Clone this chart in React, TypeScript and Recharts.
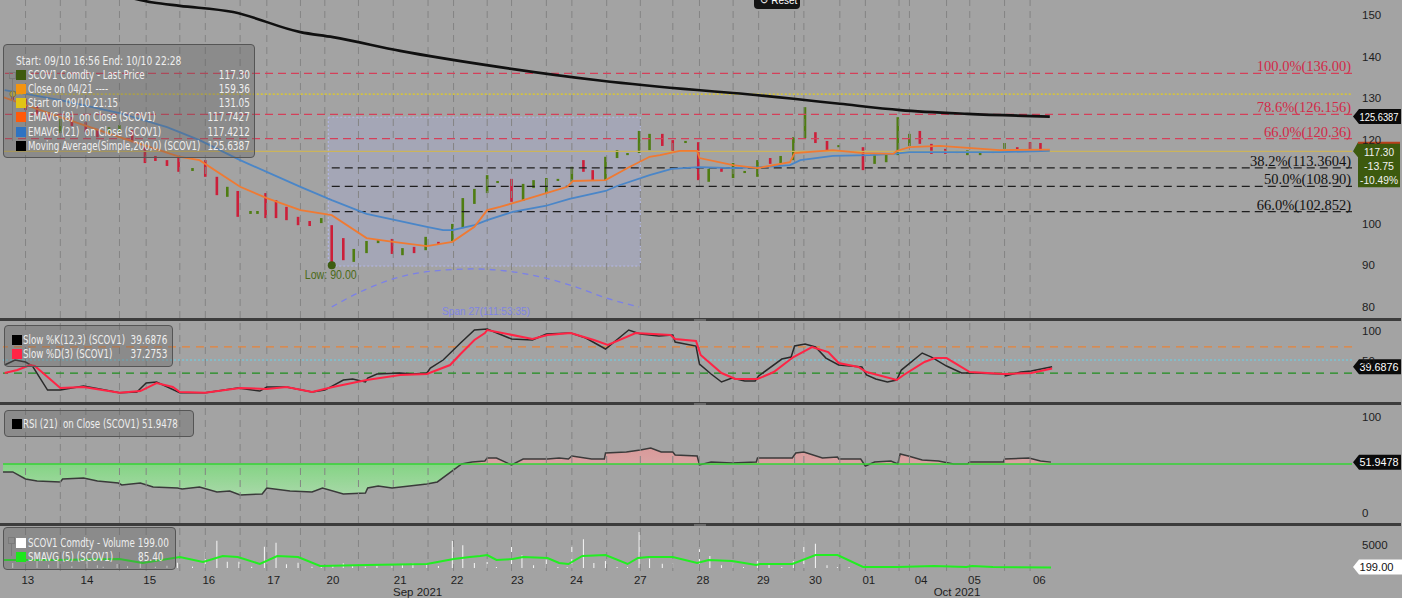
import React from 'react';
import { ComposedChart, Line, Bar, Area, XAxis, YAxis, ReferenceLine, ReferenceArea, ReferenceDot } from 'recharts';

// ---- time axis (1 unit ~ one intraday bar slot) ----
const dayTicks = [2.4, 7.5, 12.9, 18.0, 23.6, 28.7, 34.5, 39.4, 44.6, 49.7, 55.2, 60.6, 65.8, 70.3, 74.9, 79.4, 84.0, 89.6];
const dayLabels = ['13', '14', '15', '16', '17', '20', '21', '22', '23', '24', '27', '28', '29', '30', '01', '04', '05', '06'];
const monthTimes = [36.0, 82.5];
const monthLabels = ['Sep 2021', 'Oct 2021'];
const gridTimes = [2.2, 5.2, 7.4, 10.3, 12.6, 15.5, 17.7, 20.7, 23.0, 25.9, 28.0, 30.9, 33.9, 36.9, 39.1, 42.0, 44.1, 47.1, 49.3, 52.3, 55.2, 58.0, 60.3, 63.2, 65.4, 68.5, 69.3, 72.4, 74.6, 77.5, 78.4, 81.6, 83.6, 86.6, 88.8];

// ---- price candles ----
const candleTimes = [
  1.1, 2.2, 3.2, 4.2, 5.2, 6.2, 7.4, 8.4, 9.4, 10.3,
  11.4, 12.5, 13.4, 14.4, 15.4, 16.6, 17.7, 18.7, 19.6, 20.5,
  21.6, 22.2, 22.9, 23.8, 24.7, 25.7, 26.7, 27.7, 28.6, 29.6,
  30.5, 31.6, 32.6, 33.8, 34.7, 35.7, 36.7, 37.8, 39.0, 39.9,
  40.9, 42.0, 42.9, 44.1, 45.1, 46.0, 47.1, 48.1, 49.3, 50.3,
  51.1, 52.2, 53.2, 54.1, 55.1, 56.0, 57.1, 58.0, 59.1, 60.2,
  61.1, 62.2, 63.2, 64.2, 65.3, 66.4, 67.3, 68.4, 69.4, 70.3,
  71.3, 72.3, 74.4, 75.4, 76.4, 77.4, 78.4, 79.3, 80.3, 81.5,
  82.5, 83.4, 84.5, 85.6, 86.6, 87.7, 88.8, 89.7,
];
const candleHigh = [
  131.3, 129.9, 128.2, 126.7, 125.1, 125.5, 124.3, 122.7, 123.1, 123.6,
  122.4, 118.3, 116.2, 115.2, 116.2, 113.3, 115.2, 111.2, 108.8, 107.8,
  103.0, 103.0, 107.3, 105.6, 104.0, 101.6, 100.6, 101.3, 99.6, 96.5,
  93.9, 95.8, 96.0, 96.3, 94.1, 94.4, 96.8, 95.6, 99.9, 106.1,
  108.3, 111.6, 110.2, 110.7, 109.5, 110.4, 110.9, 110.7, 113.6, 115.2,
  112.8, 116.0, 117.6, 116.9, 122.2, 121.5, 121.5, 120.0, 119.8, 119.5,
  113.1, 113.3, 114.5, 112.6, 115.2, 115.7, 116.2, 120.7, 127.9, 121.9,
  119.8, 118.8, 118.3, 116.4, 116.9, 125.5, 121.5, 122.2, 119.1, 117.9,
  117.4, 117.6, 117.1, 117.4, 119.3, 118.3, 119.5, 119.3,
];
const candleLow = [
  129.6, 127.2, 125.8, 124.6, 121.7, 123.4, 121.9, 120.7, 121.5, 121.9,
  119.5, 114.5, 115.0, 113.8, 112.4, 112.6, 111.2, 106.8, 106.4, 101.6,
  102.3, 102.3, 101.3, 101.3, 100.8, 99.6, 99.4, 100.1, 90.0, 91.2,
  90.8, 92.9, 95.3, 92.7, 92.4, 92.9, 93.6, 95.1, 95.8, 98.9,
  104.7, 107.3, 109.7, 105.2, 105.4, 108.5, 107.3, 110.2, 110.0, 112.4,
  110.4, 110.4, 115.7, 116.4, 116.9, 117.6, 118.6, 116.9, 119.3, 110.4,
  110.0, 112.4, 110.9, 112.1, 111.2, 114.3, 114.5, 115.2, 120.5, 119.3,
  117.4, 118.3, 112.8, 114.3, 114.7, 116.4, 118.6, 119.1, 116.7, 116.7,
  116.9, 116.4, 116.4, 116.9, 117.9, 117.6, 117.6, 117.3,
];
// u = up bar (close above open), d = down bar
const candleDir = 'dddduddduu' + 'ddddduddud' + 'uudddddudd' + 'uuudududuu' + 'uuuduuuuud' + 'duuuuuddud' + 'uduuuduuud' + 'duduuuuddd' + 'uuuuuddd';

// ---- overlays on price ----
const ema8Times = [0.26, 5.2, 10.3, 15.5, 17.2, 20.7, 23.0, 25.9, 28.6, 31.6, 33.9, 36.8, 39.0, 40.9, 42.0, 43.1, 45.1, 47.1, 48.9, 49.4, 52.2, 54.1, 56.0, 56.9, 58.6, 60.1, 60.3, 63.2, 65.3, 68.1, 68.5, 71.8, 74.4, 77.0, 77.3, 78.4, 81.0, 86.2, 90.5];
const ema8Values = [130.3, 125.5, 120.7, 116.0, 115.2, 108.8, 106.1, 103.2, 102.0, 96.5, 95.6, 94.6, 95.6, 99.2, 103.2, 104.0, 105.6, 107.3, 108.8, 110.2, 110.4, 113.3, 116.0, 116.4, 117.4, 117.4, 115.7, 114.0, 113.3, 114.7, 116.9, 117.6, 116.9, 116.7, 117.4, 118.3, 118.6, 117.6, 117.74];
const ema21Times = [0.4, 5.2, 10.3, 14.4, 17.2, 20.7, 25.9, 28.6, 31.6, 36.8, 38.2, 39.0, 40.9, 42.0, 44.2, 47.0, 49.1, 52.2, 53.2, 56.0, 57.9, 60.3, 63.2, 65.5, 68.1, 69.0, 71.8, 75.0, 77.0, 78.4, 86.2, 90.5];
const ema21Values = [132.0, 129.6, 126.5, 123.1, 120.0, 115.2, 108.8, 105.6, 102.3, 99.2, 98.4, 98.4, 99.6, 100.8, 102.8, 104.2, 105.9, 107.8, 109.0, 111.6, 113.1, 113.5, 113.3, 113.5, 114.0, 115.2, 116.2, 116.4, 116.7, 117.1, 117.1, 117.42];
const ma200Times = [0.26, 6.9, 13.2, 15.5, 20.1, 25.9, 28.7, 34.5, 43.1, 51.7, 60.1, 63.2, 68.4, 72.4, 77.6, 83.4, 90.5];
const ma200Values = [158.5, 157.0, 153.0, 152.2, 150.7, 145.9, 144.7, 141.4, 137.5, 134.3, 132.0, 131.3, 129.9, 128.7, 127.2, 126.3, 125.64];
const arcTimes = [28.6, 31.6, 34.5, 37.3, 40.8, 43.7, 46.6, 49.4, 52.3, 55.1];
const arcValues = [80.0, 84.3, 87.2, 88.6, 89.1, 88.6, 87.2, 85.0, 82.1, 80.0];

const fibRed = [
  { v: 136.0, label: '100.0%(136.00)' },
  { v: 126.156, label: '78.6%(126.156)' },
  { v: 120.36, label: '66.0%(120.36)' },
];
const fibBlack = [
  { v: 113.3604, label: '38.2%(113.3604)' },
  { v: 108.9, label: '50.0%(108.90)' },
  { v: 102.852, label: '66.0%(102.852)' },
];
const lastPrice = 117.3;
const startPrice = 131.05;
const ma200Last = 125.6387;
const lowPoint = { t: 28.6, v: 90.0 };

// ---- stochastic ----
const kTimes = [0.4, 1.3, 2.2, 2.8, 4.1, 5.2, 7.2, 8.6, 10.3, 11.8, 12.6, 13.5, 15.5, 17.7, 20.5, 22.4, 23.0, 24.7, 26.9, 28.0, 29.6, 30.4, 31.5, 31.7, 32.5, 34.5, 35.6, 36.8, 37.1, 38.2, 39.7, 40.9, 42.0, 44.1, 45.9, 47.1, 49.2, 50.5, 52.2, 54.2, 55.2, 56.8, 58.0, 58.2, 60.0, 60.3, 61.3, 62.2, 63.1, 64.2, 65.1, 65.4, 67.4, 68.2, 68.5, 69.4, 70.3, 71.2, 72.3, 74.3, 74.7, 75.5, 76.5, 77.3, 77.7, 79.5, 80.3, 81.6, 82.9, 83.9, 86.6, 86.7, 88.0, 88.9, 90.7];
const kValues = [42.4, 50.0, 47.0, 40.9, 4.5, 4.5, 10.6, 6.1, 0.5, 1.5, 15.2, 16.7, 0.5, 0.5, 7.6, 3.0, 9.1, 9.1, 1.5, 4.5, 19.7, 21.2, 16.7, 22.7, 28.8, 30.3, 28.8, 30.3, 37.9, 50.0, 75.8, 95.5, 97.0, 81.8, 80.3, 89.4, 90.9, 83.3, 66.7, 95.5, 89.4, 86.4, 87.9, 77.3, 71.2, 43.9, 28.8, 16.7, 22.7, 18.2, 18.2, 25.8, 51.5, 54.5, 71.2, 74.2, 69.7, 53.0, 42.4, 39.4, 27.3, 21.2, 16.7, 19.7, 34.8, 60.6, 54.5, 40.9, 30.3, 30.3, 28.8, 25.8, 31.8, 33.3, 39.69];
const dTimes = [0.4, 1.5, 2.6, 3.0, 4.6, 5.2, 7.2, 10.3, 12.1, 13.5, 14.9, 15.5, 17.7, 20.7, 23.0, 24.7, 26.9, 28.7, 31.6, 34.5, 36.8, 38.8, 39.7, 40.9, 41.8, 42.0, 45.9, 47.2, 49.2, 51.2, 52.4, 54.8, 57.8, 58.2, 60.0, 60.4, 62.2, 63.4, 65.3, 66.7, 68.4, 70.0, 71.4, 72.3, 74.0, 74.7, 77.3, 77.9, 79.7, 80.6, 81.6, 83.6, 86.6, 88.9, 90.7];
const dValues = [30.3, 34.8, 42.4, 40.9, 16.7, 7.6, 9.1, 0.5, 3.0, 15.2, 9.1, 1.5, 0.5, 7.6, 6.1, 9.1, 1.5, 9.1, 19.7, 27.3, 28.8, 42.4, 59.1, 80.3, 90.9, 95.5, 81.8, 87.9, 90.9, 80.3, 72.7, 90.9, 87.9, 81.8, 78.8, 57.6, 30.3, 21.2, 21.2, 31.8, 54.5, 69.7, 62.1, 45.5, 39.4, 31.8, 19.7, 27.3, 47.0, 53.0, 53.0, 31.8, 28.8, 30.3, 37.28];
const kLast = 39.6876;

// ---- RSI ----
const rsiTimes = [0.26, 1.1, 2.2, 3.2, 5.2, 5.4, 7.2, 8.4, 10.2, 10.5, 12.1, 13.2, 15.3, 15.7, 17.2, 18.7, 19.8, 20.7, 22.6, 23.0, 25.0, 26.9, 27.8, 29.6, 31.5, 31.7, 32.6, 33.8, 35.3, 36.8, 37.7, 39.8, 40.7, 41.8, 42.0, 42.8, 44.1, 45.1, 47.2, 48.2, 49.0, 49.3, 51.0, 52.1, 52.2, 54.0, 55.2, 56.1, 57.0, 58.0, 58.2, 60.1, 60.3, 61.3, 63.1, 65.2, 65.3, 67.2, 68.3, 68.6, 69.3, 70.9, 72.2, 72.3, 74.2, 74.6, 75.4, 76.8, 77.4, 77.6, 78.3, 79.5, 80.9, 82.2, 83.4, 83.6, 86.5, 86.6, 88.7, 89.7, 90.6];
const rsiValues = [41.7, 41.7, 34.4, 32.3, 31.3, 34.4, 35.4, 32.3, 30.2, 28.1, 30.2, 26.0, 25.0, 24.0, 26.0, 20.8, 21.9, 17.7, 18.8, 25.0, 21.9, 20.8, 25.0, 18.8, 19.8, 25.0, 27.1, 25.0, 27.1, 29.2, 31.3, 50.0, 52.1, 53.1, 56.3, 56.3, 49.0, 55.2, 55.2, 56.3, 55.2, 58.3, 55.2, 55.2, 61.5, 62.5, 64.6, 66.7, 62.5, 62.5, 59.4, 58.3, 49.0, 52.1, 51.0, 52.1, 56.3, 56.3, 56.3, 61.5, 62.5, 56.3, 57.3, 55.2, 55.2, 47.9, 52.1, 53.1, 50.0, 60.4, 58.3, 54.2, 53.1, 50.0, 50.0, 52.1, 52.1, 55.2, 56.3, 53.1, 51.95];
const rsiLast = 51.9478;

// ---- volume ----
const volTimes = [1.1, 2.2, 3.2, 4.2, 5.0, 6.2, 7.5, 8.4, 8.9, 10.1, 11.0, 12.1, 13.4, 14.4, 15.3, 16.6, 17.7, 18.7, 19.6, 20.6, 21.7, 22.8, 23.8, 24.7, 25.7, 26.9, 27.7, 28.7, 29.6, 30.4, 31.5, 32.5, 33.8, 34.7, 35.6, 36.8, 37.8, 39.0, 39.9, 40.9, 42.0, 42.8, 44.1, 45.0, 46.0, 47.1, 48.1, 48.9, 49.3, 50.3, 51.2, 52.2, 53.2, 54.1, 55.1, 56.0, 57.1, 58.0, 60.3, 61.2, 62.2, 63.2, 64.1, 65.3, 66.3, 67.4, 68.4, 69.3, 70.3, 71.3, 72.2, 73.2, 74.4, 77.5, 81.6, 89.7];
const volValues = [1100, 500, 3200, 700, 2200, 400, 1500, 600, 300, 900, 400, 1800, 300, 500, 1180, 300, 3630, 6070, 1400, 1400, 300, 4740, 5620, 810, 1180, 300, 200, 670, 1040, 440, 300, 440, 440, 810, 1040, 670, 440, 5990, 5030, 1110, 1330, 220, 5990, 2810, 590, 1850, 220, 220, 5030, 6360, 1110, 1550, 220, 220, 7990, 2070, 960, 960, 4140, 2660, 590, 960, 220, 1550, 960, 220, 1550, 6140, 5400, 590, 220, 220, 150, 370, 150, 199];
const smaTimes = [0.26, 4.9, 10.3, 12.3, 15.5, 17.5, 19.2, 20.5, 22.4, 23.9, 25.7, 27.6, 31.6, 36.8, 39.1, 40.5, 41.4, 42.0, 42.8, 44.2, 45.1, 47.2, 48.2, 49.0, 50.2, 52.2, 54.1, 55.0, 55.9, 58.0, 60.1, 61.1, 63.1, 65.2, 65.5, 68.3, 70.3, 72.2, 74.4, 77.4, 80.5, 83.3, 83.8, 85.6, 90.6];
const smaValues = [1776, 1776, 1998, 1110, 2442, 1332, 2664, 2442, 888, 2664, 2442, 444, 666, 888, 1998, 2442, 2664, 2886, 1776, 1998, 2442, 2220, 1110, 888, 2664, 2886, 888, 2220, 2442, 2442, 1110, 1776, 1554, 666, 888, 888, 2886, 2886, 222, 222, 444, 222, 444, 222, 85.4];
const volLast = 199.0;

// ---- layout ----
const W = 1409;
const PLOT_L = 3;
const PLOT_R = 1352;
const UNIT = 11.6;
const X_DOMAIN: [number, number] = [PLOT_L / UNIT, PLOT_R / UNIT];
const AXIS_W = W - PLOT_R;
const BG = '#a3a3a3';
const RED = '#cc1f3a';
const GREEN = '#4f7d12';
const NARROW = "'Liberation Sans Narrow','DejaVu Sans Condensed','Arial Narrow',sans-serif";
const SANS = "'Liberation Sans','DejaVu Sans',sans-serif";
const SERIF = "'Liberation Serif','DejaVu Serif',serif";
const LABEL_SQUEEZE = 0.74;
const VALUE_SQUEEZE = 0.76;

const pairs = (ts: number[], vs: number[]) => ts.map((t, i) => ({ t, v: vs[i] }));

const candleRows = candleTimes.map((t, i) => {
  const up = candleDir[i] === 'u';
  return {
    t,
    high: candleHigh[i],
    low: candleLow[i],
    open: up ? candleLow[i] : candleHigh[i],
    close: up ? candleHigh[i] : candleLow[i],
  };
});
const ema8Rows = pairs(ema8Times, ema8Values);
const ema21Rows = pairs(ema21Times, ema21Values);
const ma200Rows = pairs(ma200Times, ma200Values);
const arcRows = pairs(arcTimes, arcValues);
const kRows = pairs(kTimes, kValues);
const dRows = pairs(dTimes, dValues);
const rsiRows = pairs(rsiTimes, rsiValues);
const volRows = pairs(volTimes, volValues);
const smaRows = pairs(smaTimes, smaValues);

const rsiMax = Math.max(...rsiValues);
const rsiMin = Math.min(...rsiValues);
const rsiSplit = (rsiMax - 50) / (rsiMax - rsiMin);

const Candle = (props: any) => {
  const { x, y, width, height, payload } = props;
  if (x == null || y == null) return null;
  const top = height < 0 ? y + height : y;
  const h = Math.abs(height);
  const cx = x + width / 2;
  const color = payload.close >= payload.open ? GREEN : RED;
  return <rect x={cx - 1.3} y={top} width={2.6} height={Math.max(h, 2)} fill={color} />;
};

const axisTick = (dy: number) => (props: any) => (
  <text x={props.x} y={props.y} dy={dy} fill="#1e1e1e" fontSize={11.5} fontFamily={SANS} textAnchor="start">
    {props.payload.value}
  </text>
);

const dayTick = (props: any) => {
  const idx = dayTicks.indexOf(props.payload.value);
  return (
    <text x={props.x} y={props.y + 13} fill="#1e1e1e" fontSize={11.5} fontFamily={SANS} textAnchor="middle">
      {dayLabels[idx]}
    </text>
  );
};

const fibLabel = (text: string, color: string) => (props: any) => {
  const vb = props.viewBox;
  return (
    <text x={vb.x + vb.width - 1} y={vb.y - 2} fill={color} fontSize={14.5} fontFamily={SERIF} textAnchor="end">
      {text}
    </text>
  );
};

const tagLabel = (text: string, bg: string, fg: string, w = 49, textW = 39) => (props: any) => {
  const vb = props.viewBox;
  const x = PLOT_R;
  const y = vb.y;
  return (
    <g>
      <polygon points={`${x + 1},${y} ${x + 7},${y - 7.5} ${x + w},${y - 7.5} ${x + w},${y + 7.5} ${x + 7},${y + 7.5}`} fill={bg} />
      <text x={x + 7.5} y={y + 4} fill={fg} fontSize={11} fontFamily={SANS} textLength={textW} lengthAdjust="spacingAndGlyphs">
        {text}
      </text>
    </g>
  );
};

const lastPriceLabel = (props: any) => {
  const vb = props.viewBox;
  const x = PLOT_R;
  const y = vb.y;
  const line = (txt: string, dy: number, tw: number) => (
    <text x={x + 27 - tw / 2} y={y + dy} fill="#f2f2f2" fontSize={11} fontFamily={SANS} textLength={tw} lengthAdjust="spacingAndGlyphs">
      {txt}
    </text>
  );
  return (
    <g>
      <polygon points={`${x + 1},${y} ${x + 6},${y - 9} ${x + 48},${y - 9} ${x + 48},${y + 36} ${x + 6},${y + 36} ${x + 6},${y + 6}`} fill="#3d5a0e" />
      <line x1={x + 6} x2={x + 48} y1={y - 8.5} y2={y - 8.5} stroke="#b8401c" strokeWidth={2} />
      {line('117.30', 5, 30)}
      {line('-13.75', 19, 30)}
      {line('-10.49%', 33, 38)}
    </g>
  );
};

const grid = () =>
  gridTimes.map((g) => <ReferenceLine key={`g${g}`} x={g} stroke="#848484" strokeDasharray="7 5" strokeWidth={1} />);

const squeezed = (origin: 'left' | 'right', k: number): React.CSSProperties => ({
  display: 'inline-block',
  transform: `scaleX(${k})`,
  transformOrigin: `${origin} center`,
});

const LegendRow = ({ top, color, label, value, squareLeft, textLeft, valueRight }: any) => (
  <div style={{ position: 'absolute', top, left: 0, right: 0, height: 14, lineHeight: '14px', fontSize: 13, color: '#eeeeee', whiteSpace: 'pre' }}>
    {color && <div style={{ position: 'absolute', left: squareLeft, top: 2, width: 10, height: 10, background: color }} />}
    <span style={{ position: 'absolute', left: textLeft }}>
      <span style={squeezed('left', LABEL_SQUEEZE)}>{label}</span>
    </span>
    {value && (
      <span style={{ position: 'absolute', right: valueRight }}>
        <span style={squeezed('right', VALUE_SQUEEZE)}>{value}</span>
      </span>
    )}
  </div>
);

const boxStyle = (left: number, top: number, width: number, height: number): React.CSSProperties => ({
  position: 'absolute',
  left,
  top,
  width,
  height,
  boxSizing: 'border-box',
  border: '1.5px solid #555',
  borderRadius: 4,
  background: 'rgba(95,95,95,0.35)',
  fontFamily: NARROW,
});

const mainLegend = [
  { color: '#3d5a0e', label: 'SCOV1 Comdty - Last Price', value: '117.30' },
  { color: '#f29410', label: 'Close on 04/21 ----', value: '159.36' },
  { color: '#e2c414', label: 'Start on 09/10 21:15', value: '131.05' },
  { color: '#ff5a0a', label: 'EMAVG (8)  on Close (SCOV1)', value: '117.7427' },
  { color: '#2f73c2', label: 'EMAVG (21)  on Close (SCOV1)', value: '117.4212' },
  { color: '#000000', label: 'Moving Average(Simple,200,0) (SCOV1)', value: '125.6387' },
];

export default function App() {
  return (
    <div style={{ position: 'fixed', left: 0, top: 0, width: 1409, height: 598, background: BG, overflow: 'hidden' }}>
      {/* main price panel */}
      <div style={{ position: 'absolute', left: 0, top: 0 }}>
        <ComposedChart width={W} height={318} data={candleRows} margin={{ top: 0, right: 0, bottom: 0, left: PLOT_L }}>
          <XAxis type="number" dataKey="t" domain={X_DOMAIN} allowDataOverflow hide />
          <YAxis
            orientation="right"
            type="number"
            domain={[77.34, 153.6]}
            ticks={[80, 90, 100, 120, 130, 140, 150]}
            width={AXIS_W}
            allowDataOverflow
            axisLine={false}
            tickLine={false}
            tickSize={0}
            tickMargin={10}
            tick={axisTick(4)}
          />
          {grid()}
          <ReferenceArea x1={28.3} x2={55.2} y1={89.8} y2={125.5} fill="#aab0e6" fillOpacity={0.3} stroke="#b4b8ea" strokeDasharray="2 2" />
          {fibRed.map((f) => (
            <ReferenceLine key={f.label} y={f.v} stroke="#d4405a" strokeDasharray="8 5" strokeWidth={1.3} label={fibLabel(f.label, '#d22a48')} />
          ))}
          {fibBlack.map((f) => (
            <ReferenceLine
              key={f.label}
              segment={[{ x: 28.6, y: f.v }, { x: X_DOMAIN[1], y: f.v }]}
              stroke="#1e1e1e"
              strokeDasharray="8 5"
              strokeWidth={1.2}
              label={fibLabel(f.label, '#111111')}
            />
          ))}
          <ReferenceLine segment={[{ x: 1.1, y: startPrice }, { x: X_DOMAIN[1], y: startPrice }]} stroke="#e6cf1a" strokeDasharray="2 2" strokeWidth={1.3} />
          <ReferenceLine y={lastPrice} stroke="#cbb45c" strokeWidth={1.3} label={lastPriceLabel} />
          <ReferenceLine y={ma200Last} stroke="none" label={tagLabel('125.6387', '#0a0a0a', '#ffffff')} />
          <Line data={arcRows} dataKey="v" type="monotone" stroke="#7b80e8" strokeWidth={1.3} strokeDasharray="6 5" dot={false} activeDot={false} isAnimationActive={false} />
          <Line data={ma200Rows} dataKey="v" type="monotone" stroke="#101010" strokeWidth={2.6} dot={false} activeDot={false} isAnimationActive={false} />
          <Line data={ema21Rows} dataKey="v" type="linear" stroke="#4a86c8" strokeWidth={1.8} dot={false} activeDot={false} isAnimationActive={false} />
          <Line data={ema8Rows} dataKey="v" type="linear" stroke="#f07a32" strokeWidth={1.8} dot={false} activeDot={false} isAnimationActive={false} />
          <Bar dataKey={(d: any) => [d.low, d.high]} barSize={3} shape={Candle} isAnimationActive={false} />
          <ReferenceDot x={1.1} y={startPrice} r={3} fill="#d4c23a" stroke="#8a7a20" strokeWidth={0.8} />
          <ReferenceDot
            x={lowPoint.t}
            y={lowPoint.v}
            r={4}
            fill="#3d5c12"
            stroke="none"
            label={(p: any) => (
              <text x={p.viewBox.x + p.viewBox.width / 2 - 27} y={p.viewBox.y + p.viewBox.height / 2 + 14} fill="#4b6a18" fontSize={12} fontFamily={SANS} textLength={52} lengthAdjust="spacingAndGlyphs">
                Low: 90.00
              </text>
            )}
          />
          <ReferenceDot
            x={41.9}
            y={79.0}
            r={0}
            stroke="none"
            label={(p: any) => (
              <text x={p.viewBox.x + p.viewBox.width / 2 - 44} y={p.viewBox.y + p.viewBox.height / 2} dominantBaseline="central" fill="#7e84e4" fontSize={11.5} fontFamily={SANS} textLength={88} lengthAdjust="spacingAndGlyphs">
                Span 27(111:53:35)
              </text>
            )}
          />
        </ComposedChart>
      </div>

      {/* stochastic panel */}
      <div style={{ position: 'absolute', left: 0, top: 321 }}>
        <ComposedChart width={W} height={81} margin={{ top: 0, right: 0, bottom: 0, left: PLOT_L }}>
          <XAxis type="number" dataKey="t" domain={X_DOMAIN} allowDataOverflow hide />
          <YAxis orientation="right" type="number" domain={[-13.6, 109.1]} ticks={[0, 50, 100]} width={AXIS_W} allowDataOverflow axisLine={false} tickLine={false} tickSize={0} tickMargin={10} tick={axisTick(5)} />
          {grid()}
          <ReferenceLine y={70} stroke="#e8843a" strokeDasharray="8 6" strokeWidth={1.2} />
          <ReferenceLine y={50} stroke="#7cc4d4" strokeDasharray="2 2" strokeWidth={1.5} />
          <ReferenceLine y={30} stroke="#1f8f1f" strokeDasharray="8 6" strokeWidth={1.2} />
          <Line data={kRows} dataKey="v" type="linear" stroke="#2a2a2a" strokeWidth={1.5} dot={false} activeDot={false} isAnimationActive={false} />
          <Line data={dRows} dataKey="v" type="linear" stroke="#ff2445" strokeWidth={2} dot={false} activeDot={false} isAnimationActive={false} />
          <ReferenceLine y={kLast} stroke="none" label={tagLabel('39.6876', '#0a0a0a', '#ffffff')} />
        </ComposedChart>
      </div>

      {/* RSI panel */}
      <div style={{ position: 'absolute', left: 0, top: 405 }}>
        <ComposedChart width={W} height={118} margin={{ top: 0, right: 0, bottom: 0, left: PLOT_L }}>
          <defs>
            <linearGradient id="rsiFill" x1="0" y1="0" x2="0" y2="1">
              <stop offset="0" stopColor="#d99a9a" />
              <stop offset={rsiSplit} stopColor="#d9a3a3" />
              <stop offset={rsiSplit} stopColor="#84d484" />
              <stop offset="1" stopColor="#a8d8a8" />
            </linearGradient>
          </defs>
          <XAxis type="number" dataKey="t" domain={X_DOMAIN} allowDataOverflow hide />
          <YAxis orientation="right" type="number" domain={[-11.5, 111.5]} ticks={[0, 100]} width={AXIS_W} allowDataOverflow axisLine={false} tickLine={false} tickSize={0} tickMargin={10} tick={axisTick(5)} />
          {grid()}
          <Area data={rsiRows} dataKey="v" type="linear" baseValue={50} stroke="#3a3a3a" strokeWidth={1.5} fill="url(#rsiFill)" fillOpacity={1} dot={false} activeDot={false} isAnimationActive={false} />
          <ReferenceLine y={50} stroke="#35d435" strokeWidth={1.5} />
          <ReferenceLine y={rsiLast} stroke="none" label={tagLabel('51.9478', '#0a0a0a', '#ffffff')} />
        </ComposedChart>
      </div>

      {/* volume panel + time axis */}
      <div style={{ position: 'absolute', left: 0, top: 526 }}>
        <ComposedChart width={W} height={72} data={volRows} margin={{ top: 0, right: 0, bottom: 0, left: PLOT_L }}>
          <XAxis
            type="number"
            dataKey="t"
            domain={X_DOMAIN}
            allowDataOverflow
            ticks={dayTicks}
            interval={0}
            height={27}
            axisLine={false}
            tickLine={false}
            tickSize={0}
            tickMargin={0}
            tick={dayTick}
          />
          <YAxis orientation="right" type="number" domain={[-666, 9324]} ticks={[5000]} width={AXIS_W} allowDataOverflow axisLine={false} tickLine={false} tickSize={0} tickMargin={10} tick={axisTick(4)} />
          {grid()}
          <Bar dataKey="v" barSize={2} fill="#f4f4f4" isAnimationActive={false} />
          <Line data={smaRows} dataKey="v" type="linear" stroke="#22ee22" strokeWidth={2} dot={false} activeDot={false} isAnimationActive={false} />
          <ReferenceLine y={volLast} stroke="none" label={tagLabel('199.00', '#ffffff', '#111111', 57, 34)} />
          {monthTimes.map((m, i) => (
            <ReferenceLine
              key={monthLabels[i]}
              x={m}
              stroke="none"
              label={(p: any) => (
                <text x={p.viewBox.x} y={p.viewBox.y + p.viewBox.height + 25} fill="#1e1e1e" fontSize={11.5} fontFamily={SANS} textAnchor="middle">
                  {monthLabels[i]}
                </text>
              )}
            />
          ))}
        </ComposedChart>
      </div>

      {/* panel separators with grab handles */}
      {[318, 402, 523].map((top) => (
        <div key={top} style={{ position: 'absolute', left: 0, top, width: 1401, height: 3, background: '#3c3c3c' }}>
          <div style={{ position: 'absolute', left: 694, top: 0.5, width: 12, height: 2, background: '#6a6a6a' }} />
        </div>
      ))}
      <div style={{ position: 'absolute', left: 1402, top: 0, width: 7, height: 598, background: '#ffffff' }} />

      {/* reset button peeking at top */}
      <div style={{ position: 'absolute', left: 754, top: -8, width: 46, height: 17, background: '#141414', borderRadius: 4, color: '#fff', fontSize: 10, fontFamily: SANS, lineHeight: '17px', paddingLeft: 6, boxSizing: 'border-box' }}>
        ↺ Reset
      </div>

      {/* legends */}
      <div style={boxStyle(3, 44, 252, 114)}>
        <div style={{ position: 'absolute', left: 5, top: 27, width: 5, height: 5, border: '1px solid #7a7a7a' }} />
        <div style={{ position: 'absolute', left: 8, top: 34, width: 1, height: 62, background: '#7a7a7a' }} />
        <div style={{ position: 'absolute', left: 12, top: 9, fontSize: 13, color: '#eeeeee', lineHeight: '14px', whiteSpace: 'pre' }}>
          <span style={squeezed('left', 0.78)}>Start: 09/10 16:56 End: 10/10 22:28</span>
        </div>
        {mainLegend.map((r, i) => (
          <LegendRow key={r.label} top={22.5 + i * 14.3} color={r.color} label={r.label} value={r.value} squareLeft={12} textLeft={24} valueRight={4} />
        ))}
      </div>
      <div style={boxStyle(4, 325, 169, 42)}>
        <LegendRow top={7} color="#000000" label="Slow %K(12,3) (SCOV1)" value="39.6876" squareLeft={7} textLeft={18} valueRight={5} />
        <LegendRow top={21} color="#ff2445" label="Slow %D(3) (SCOV1)" value="37.2753" squareLeft={7} textLeft={18} valueRight={5} />
      </div>
      <div style={boxStyle(4, 410, 190, 27)}>
        <LegendRow top={5.5} color="#000000" label="RSI (21)  on Close (SCOV1) 51.9478" squareLeft={7} textLeft={18} />
      </div>
      <div style={boxStyle(3, 527, 173, 43)}>
        <div style={{ position: 'absolute', left: 4, top: 9, width: 5, height: 5, border: '1px solid #7a7a7a' }} />
        <div style={{ position: 'absolute', left: 7, top: 16, width: 1, height: 12, background: '#7a7a7a' }} />
        <LegendRow top={8} color="#ffffff" label="SCOV1 Comdty - Volume" value="199.00" squareLeft={12} textLeft={24} valueRight={6} />
        <LegendRow top={22} color="#1ee61e" label="SMAVG (5) (SCOV1)" value="85.40" squareLeft={12} textLeft={24} valueRight={12} />
      </div>
    </div>
  );
}
